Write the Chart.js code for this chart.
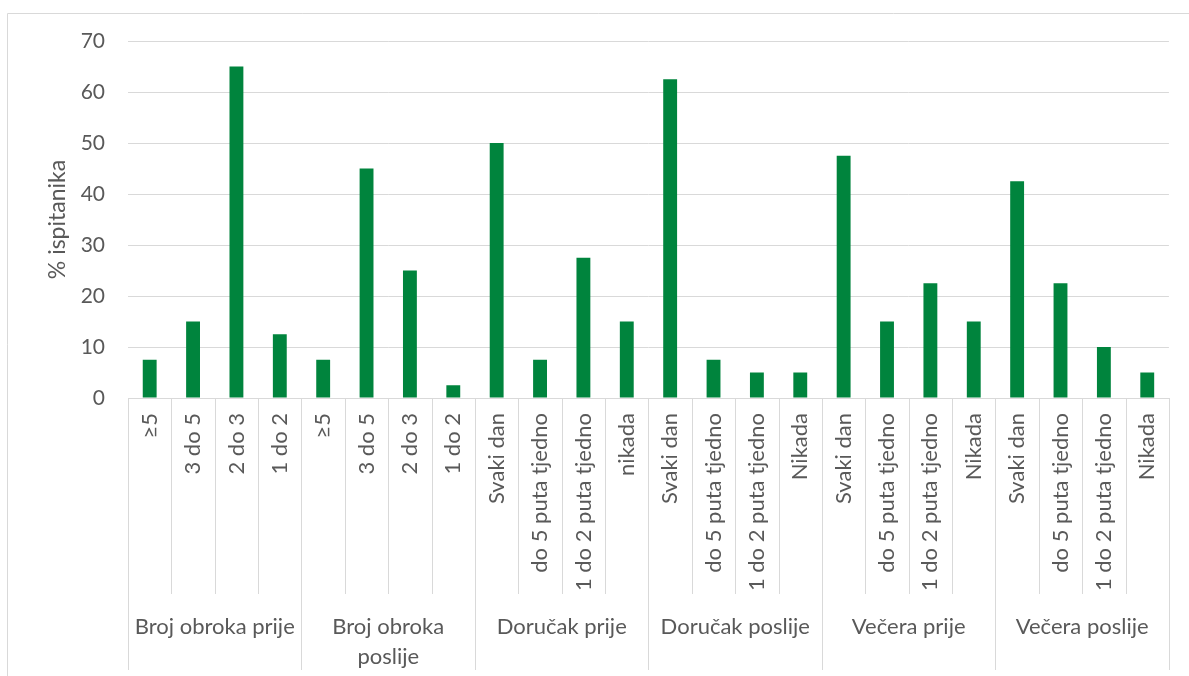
<!DOCTYPE html>
<html>
<head>
<meta charset="utf-8">
<script src="https://cdn.jsdelivr.net/npm/chart.js@4"></script>
<style>
    body { margin: 0; background: #fff; }
    canvas { display: block; }
</style>
</head>
<body>
<canvas id="chart" width="1189" height="676"></canvas>
<script>
// categories (4 per group) and the group names under them
const categories = [
    '≥5', '3 do 5', '2 do 3', '1 do 2',
    '≥5', '3 do 5', '2 do 3', '1 do 2',
    'Svaki dan', 'do 5 puta tjedno', '1 do 2 puta tjedno', 'nikada',
    'Svaki dan', 'do 5 puta tjedno', '1 do 2 puta tjedno', 'Nikada',
    'Svaki dan', 'do 5 puta tjedno', '1 do 2 puta tjedno', 'Nikada',
    'Svaki dan', 'do 5 puta tjedno', '1 do 2 puta tjedno', 'Nikada'
];
const groupLabels = [
    'Broj obroka prije', ['Broj obroka', 'poslije'], 'Doručak prije',
    'Doručak poslije', 'Večera prije', 'Večera poslije'
];
const percentValues = [
    7.5, 15, 65, 12.5,
    7.5, 45, 25, 2.5,
    50, 7.5, 27.5, 15,
    62.5, 7.5, 5, 5,
    47.5, 15, 22.5, 15,
    42.5, 22.5, 10, 5
];
const yTicks = [0, 10, 20, 30, 40, 50, 60, 70];
const groupSize = 4;

const FONT = 'Lato, "Open Sans", sans-serif';
const TEXT_COLOR = '#595959';
const LINE_COLOR = '#d9d9d9';

// outer frame + multi-level category axis (separators and group names)
const frameAndGroups = {
    id: 'frameAndGroups',
    beforeDraw(chart) {
        const ctx = chart.ctx;
        ctx.save();
        ctx.strokeStyle = LINE_COLOR;
        ctx.lineWidth = 1;
        ctx.beginPath();
        ctx.moveTo(7.5, chart.height);
        ctx.lineTo(7.5, 13.5);
        ctx.lineTo(chart.width, 13.5);
        ctx.stroke();
        ctx.restore();
    },
    afterDraw(chart) {
        const ctx = chart.ctx;
        const x = chart.scales.x;
        const area = chart.chartArea;
        const n = categories.length;
        const boundary = i => {
            if (i === 0) return area.left;
            if (i === n) return area.right;
            return (x.getPixelForValue(i - 1) + x.getPixelForValue(i)) / 2;
        };
        ctx.save();
        ctx.strokeStyle = LINE_COLOR;
        ctx.lineWidth = 1;
        for (let i = 0; i <= n; i++) {
            const px = Math.round(boundary(i)) + 0.5;
            const end = i % groupSize === 0 ? 670 : 594;
            ctx.beginPath();
            ctx.moveTo(px, area.bottom);
            ctx.lineTo(px, end);
            ctx.stroke();
        }
        ctx.fillStyle = TEXT_COLOR;
        ctx.font = '22px ' + FONT;
        ctx.textAlign = 'center';
        ctx.textBaseline = 'middle';
        groupLabels.forEach((label, g) => {
            const cx = (boundary(g * groupSize) + boundary((g + 1) * groupSize)) / 2;
            const lines = Array.isArray(label) ? label : [label];
            lines.forEach((line, k) => ctx.fillText(line, cx, 627 + k * 30));
        });
        ctx.restore();
    }
};

new Chart(document.getElementById('chart'), {
    type: 'bar',
    data: {
        labels: categories,
        datasets: [{
            data: percentValues,
            backgroundColor: '#00843d',
            borderWidth: 0,
            barPercentage: 0.32,
            categoryPercentage: 1.0
        }]
    },
    options: {
        responsive: false,
        animation: false,
        devicePixelRatio: 1,
        layout: { padding: { top: 41, right: 17, left: 0, bottom: 0 } },
        plugins: {
            legend: { display: false },
            tooltip: { enabled: false }
        },
        scales: {
            x: {
                afterFit: scale => { scale.height = 278; },
                grid: { display: false, drawTicks: false },
                border: { display: true, color: LINE_COLOR, width: 1 },
                ticks: {
                    autoSkip: false,
                    minRotation: 90,
                    maxRotation: 90,
                    padding: 15,
                    color: TEXT_COLOR,
                    font: { family: FONT, size: 22 }
                }
            },
            y: {
                min: yTicks[0],
                max: yTicks[yTicks.length - 1],
                afterFit: scale => { scale.width = 128; },
                afterBuildTicks: scale => { scale.ticks = yTicks.map(v => ({ value: v })); },
                grid: { color: LINE_COLOR, lineWidth: 1, drawTicks: false },
                border: { display: false },
                ticks: {
                    padding: 23,
                    color: TEXT_COLOR,
                    font: { family: FONT, size: 21 }
                },
                title: {
                    display: true,
                    text: '% ispitanika',
                    color: TEXT_COLOR,
                    font: { family: FONT, size: 23 },
                    padding: { top: 44, bottom: 0 }
                }
            }
        }
    },
    plugins: [frameAndGroups]
});
</script>
</body>
</html>
